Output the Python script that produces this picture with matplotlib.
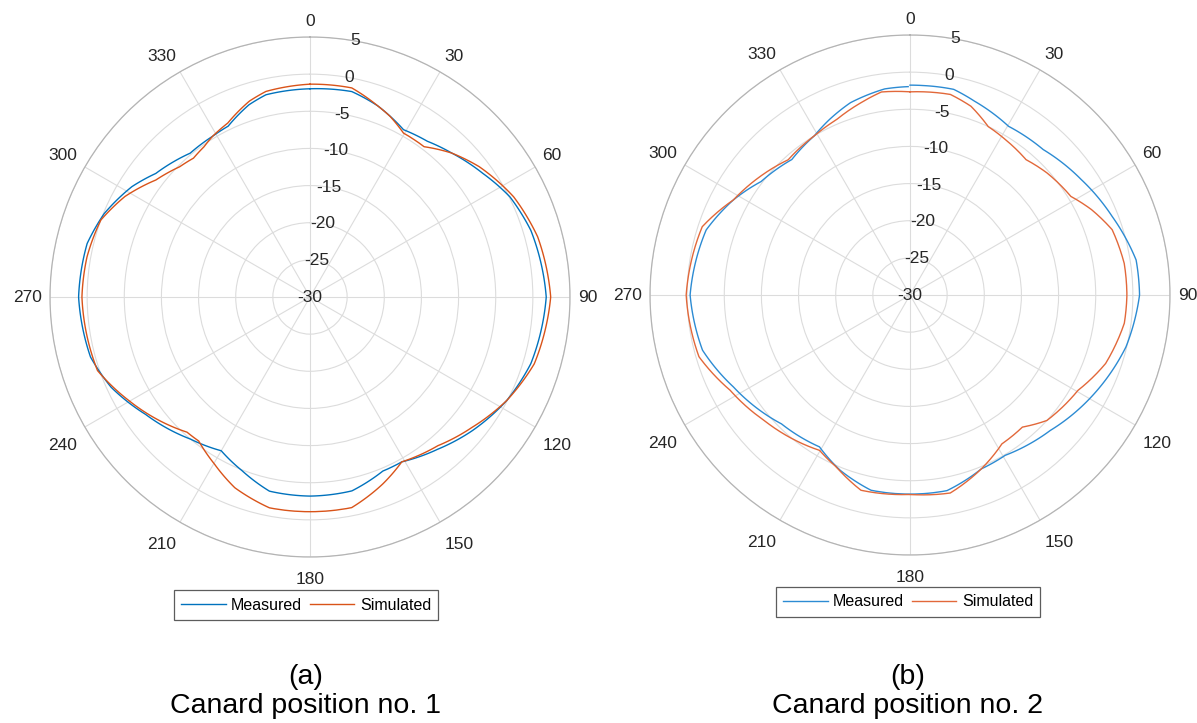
import numpy as np
import matplotlib
matplotlib.use("Agg")
from matplotlib import pyplot as plt
from matplotlib.lines import Line2D
from matplotlib.transforms import offset_copy

plt.rcParams['font.family'] = ['Liberation Sans', 'DejaVu Sans']

# ---- data (dB vs azimuth in degrees) ----
ang_a_meas = [0, 11.5, 19.5, 29.2, 37, 44.6, 54.4, 63.4, 73.2, 90, 106.8, 117.7, 129.5, 140,
              150.9, 157.3, 167.8, 180, 191.8, 201.4, 210, 220.1, 234.5, 245.6, 254.7, 270,
              283.5, 292, 301.8, 308.7, 320.2, 328.8, 334.4, 342.4, 347.7, 360]
val_a_meas = [-1.97, -1.78, -2.7, -4.2, -3.75, -2.8, -1.4, 0.1, 1.05, 1.8, 1.05, -0.07, -1.7, -3.25,
              -4.6, -4.6, -3.3, -3.2, -3.3, -4.9, -6.1, -5.0, -2.8, -0.6, 0.63, 1.15,
              0.85, -0.1, -1.8, -3.4, -4.8, -4.7, -4.5, -2.85, -2.14, -1.97]

ang_a_sim = [0, 11.3, 19.5, 23.9, 29.7, 37.2, 44.6, 52.4, 63.8, 75.2, 90, 106.6, 117.7, 128.8,
             139.3, 150.9, 158.7, 168.8, 180, 190.9, 201.5, 209.8, 217.7, 222.3, 240.3, 250.9,
             270, 280.2, 290.2, 298.5, 307.2, 315, 320, 324.8, 328.8, 334.7, 342.8, 347.9, 360]
val_a_sim = [-1.35, -1.3, -2.7, -3.4, -4.6, -4.6, -2.8, -1.25, 0.55, 1.7, 2.4, 1.5, -0.07, -2.0,
             -3.6, -4.6, -3.0, -1.1, -1.1, -1.1, -2.4, -4.1, -5.5, -5.4, -1.9, 0.27,
             0.7, 0.5, 0.0, -1.65, -3.95, -5.2, -5.6, -5.25, -4.7, -4.1, -2.4, -1.7, -1.35]

ang_b_meas = [0, 3.5, 12, 18.4, 30.3, 42.5, 56, 68.8, 81.2, 90, 103.5, 119.3, 134, 149.3,
              157.7, 169.3, 180, 191.3, 201.7, 210.8, 224.9, 242.5, 255.1, 270, 287.7, 298.3,
              307.3, 318.9, 329, 335.4, 342.8, 353, 359.5]
val_b_meas = [-1.75, -1.75, -1.7, -2.5, -3.7, -3.45, -2.2, -0.8, 0.8, 0.9, -0.1, -2.0, -3.75, -4.9,
              -4.7, -3.2, -3.2, -3.2, -4.6, -6.2, -5.5, -3.2, -1.1, -0.4, -1.2, -3.0,
              -4.8, -5.8, -5.0, -4.0, -2.9, -2.05, -1.95]

ang_b_sim = [0, 11.4, 17.9, 24.9, 31.5, 40.6, 48.3, 58.5, 64.8, 72.1, 81.6, 90, 97.5, 109.3,
             119.6, 132.5, 139.6, 148.3, 157.7, 168.5, 180, 194.1, 203.1, 210.2, 229.3, 242.1,
             253.7, 270, 288.2, 298.3, 308.5, 318, 329, 337.3, 345.6, 352, 360]
val_b_sim = [-2.65, -2.46, -3.3, -5.0, -5.45, -6.0, -5.3, -4.6, -3.0, -1.4, -0.85, -0.8, -0.9, -2.1,
             -4.0, -5.0, -6.65, -6.45, -4.7, -2.8, -3.15, -2.9, -4.8, -5.8, -4.1, -2.6,
             -0.4, 0.13, -0.56, -3.0, -4.3, -5.5, -5.0, -4.4, -3.3, -2.4, -2.65]

theta_ticks = list(range(0, 360, 30))
r_ticks = [-30, -25, -20, -15, -10, -5, 0, 5]

labels = ["Measured", "Simulated"]
captions = [("(a)", "Canard position no. 1"), ("(b)", "Canard position no. 2")]

W, H = 1197, 723
fig = plt.figure(figsize=(W / 100, H / 100), dpi=100)

panels = [
    dict(cx=310, cy=297, meas=(ang_a_meas, val_a_meas), sim=(ang_a_sim, val_a_sim),
         colors=("#0072BD", "#D95319"), leg=(306, 605)),
    dict(cx=910, cy=295, meas=(ang_b_meas, val_b_meas), sim=(ang_b_sim, val_b_sim),
         colors=("#2C8BD3", "#E2683A"), leg=(908, 602)),
]
R = 260
r_lab = 5 + 8.5 / R * 35  # theta labels sit just outside the outer ring

for i, p in enumerate(panels):
    ax = fig.add_axes([(p["cx"] - R) / W, (H - p["cy"] - R) / H, 2 * R / W, 2 * R / H],
                      projection="polar")
    ax.set_theta_zero_location("N")
    ax.set_theta_direction(-1)
    ax.set_ylim(-30, 5)
    ax.set_xticks(np.deg2rad(theta_ticks))
    ax.set_xticklabels([])
    low = offset_copy(ax.transData, fig=fig, x=0, y=-7, units="dots")
    for t in theta_ticks:
        s, c = np.sin(np.deg2rad(t)), np.cos(np.deg2rad(t))
        ha = "left" if s > 0.1 else ("right" if s < -0.1 else "center")
        va = "bottom" if c > 0.1 else ("top" if c < -0.1 else "center")
        tr = low if va == "top" else ax.transData
        ax.text(np.deg2rad(t), r_lab, str(t), fontsize=12.5, color="#262626",
                ha=ha, va=va, transform=tr)
    ax.set_yticks(r_ticks)
    ax.set_yticklabels([])
    for r in r_ticks:
        ax.text(np.deg2rad(10), r, str(r), fontsize=12.5, color="#262626",
                ha="center", va="center")
    ax.grid(True, color="#DCDCDC", linewidth=0.8)
    ax.spines["polar"].set_color("#B4B4B4")
    ax.spines["polar"].set_linewidth(0.9)

    for (a, v), c in zip([p["meas"], p["sim"]], p["colors"]):
        ln, = ax.plot(np.deg2rad(a), v, color=c, linewidth=1.0)
        ln.get_path()._interpolation_steps = 30  # draw segments as arcs

    handles = [Line2D([], [], color=p["colors"][0], linewidth=1.0),
               Line2D([], [], color=p["colors"][1], linewidth=1.0)]
    lx, ly = p["leg"]
    leg = fig.legend(handles, labels, loc="center", bbox_to_anchor=(lx / W, 1 - ly / H),
                     ncol=2, fontsize=11.5, frameon=True, fancybox=False, borderpad=0.45,
                     handlelength=2.8, handletextpad=0.35, columnspacing=0.45, borderaxespad=0)
    leg.get_frame().set_edgecolor("#333333")
    leg.get_frame().set_linewidth(0.9)

    fig.text(lx / W, 1 - 677 / H, captions[i][0], fontsize=20.5, ha="center", va="center")
    fig.text(lx / W, 1 - 706 / H, captions[i][1], fontsize=20.5, ha="center", va="center")

fig.savefig("out.png", dpi=100)
